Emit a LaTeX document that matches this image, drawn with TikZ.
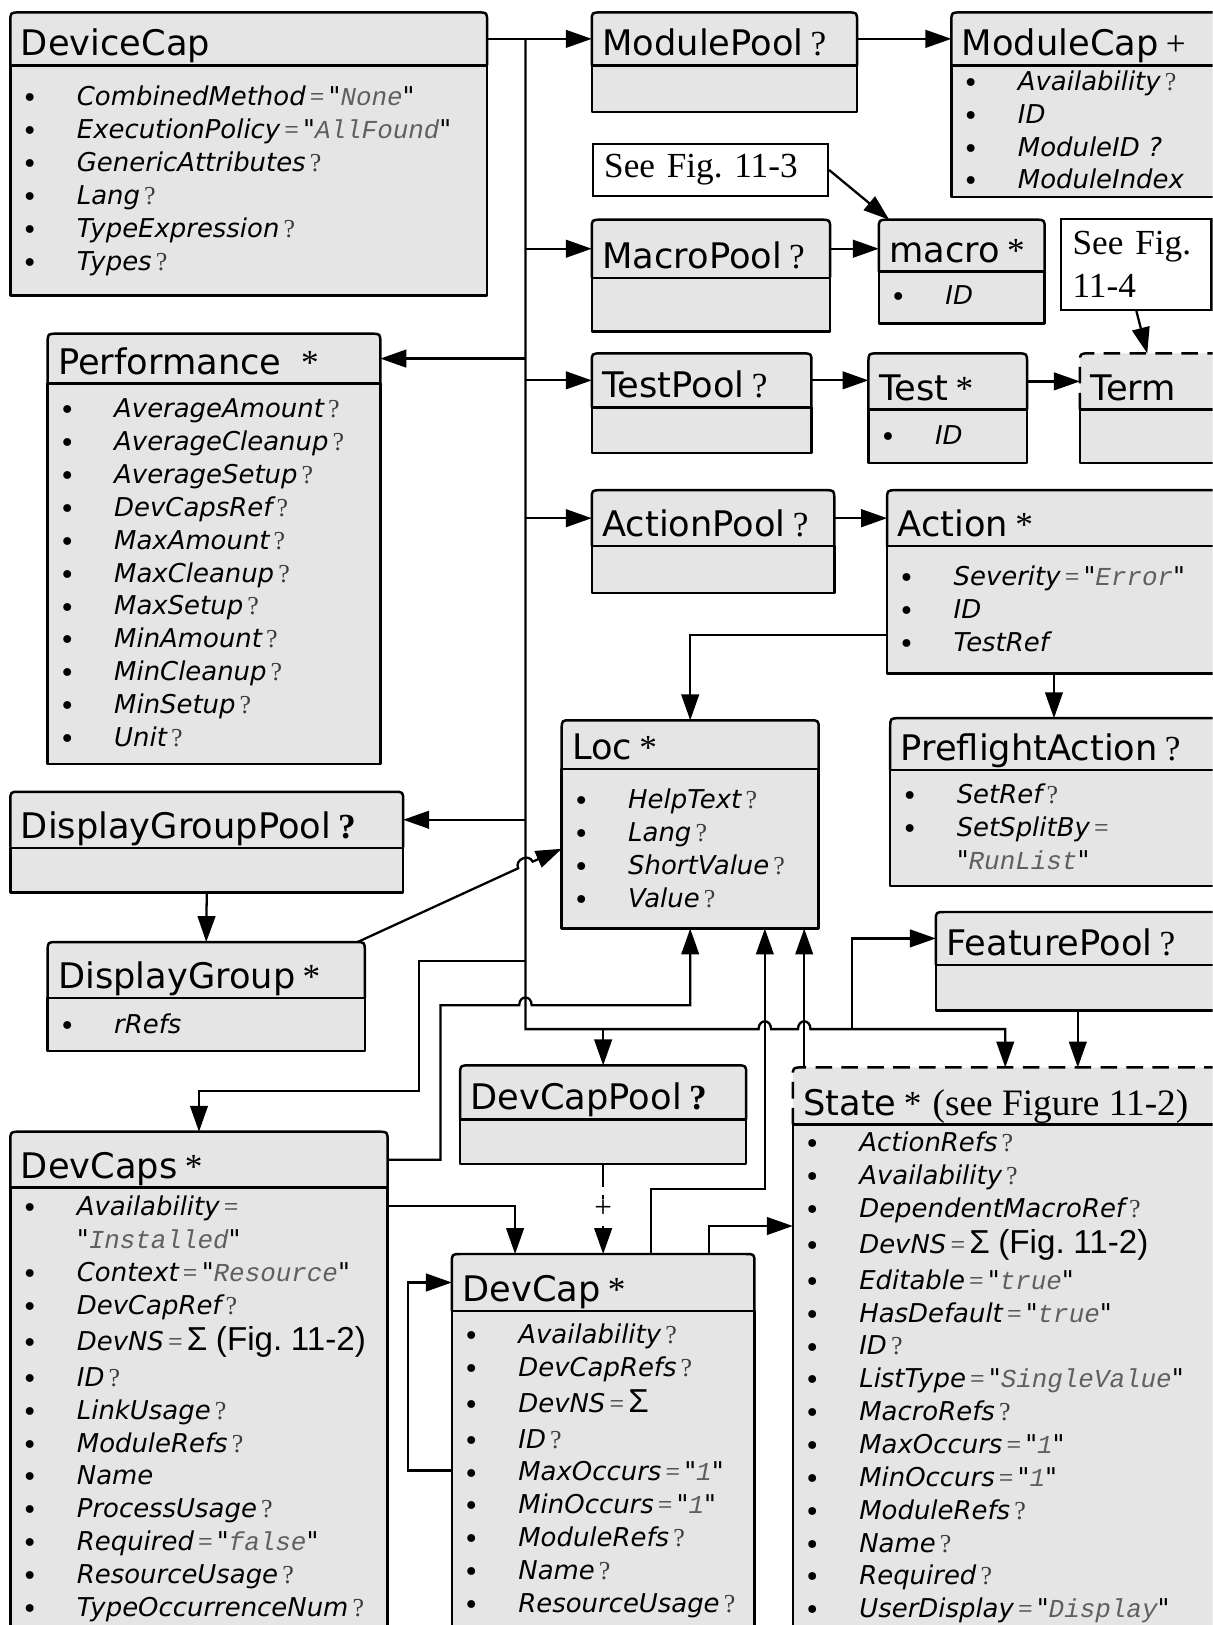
\documentclass[tikz,border=0pt]{standalone}
\usepackage{fontspec}
\setmainfont{Liberation Serif}
\newfontfamily\vfont{DejaVu Sans}
\newfontfamily\afont{Liberation Sans}
\newfontfamily\cfont{Liberation Mono}
\usetikzlibrary{arrows.meta}
\definecolor{boxgray}{RGB}{229,229,229}
\definecolor{valgray}{RGB}{95,95,95}
\definecolor{markgray}{RGB}{60,60,60}
\setlength{\parindent}{0pt}
\frenchspacing

% marks and attribute pieces
\newcommand\tmark[1]{\kern7pt{\rmfamily #1}}
\newcommand\optq{\kern4pt{\rmfamily\upshape\color{markgray}?}}
\newcommand\eqv{\kern4pt{\rmfamily\upshape\color{markgray}=}\kern4pt}
\newcommand\valq[1]{"{\cfont\color{valgray}#1}"}
\newcommand\bitem{\strut\makebox[53pt][l]{\vfont\upshape\fontsize{26}{31.7}\selectfont\raisebox{-2pt}{•}}}
\newcommand\bcont{\strut\hspace*{53pt}}
\newcommand\sigtxt[1]{{\afont\upshape\fontsize{32}{31.7}\selectfont #1}}

\tikzset{
  boxline/.style={line width=2.4pt, line join=round},
  tdash/.style={dash pattern=on 16pt off 9pt},
  hold/.style={inner sep=0pt, outer sep=0pt, anchor=north west},
  ttl/.style={anchor=base west, inner sep=0pt, font={\vfont\fontsize{34}{40}\selectfont}},
  attrlist/.style={anchor=north west, inner sep=0pt, text width=520pt, align=left,
    font={\vfont\itshape\fontsize{25}{31.7}\selectfont\lineskiplimit=-100pt}},
  wire/.style={line width=2.2pt},
  conn/.style={wire, -{Triangle[length=25pt,width=17pt]}},
  seebox/.style={draw, line width=2pt, fill=white, anchor=north west, inner xsep=11pt,
    inner ysep=0pt, align=left, font={\rmfamily\fontsize{34}{42}\selectfont}},
  plusmark/.style={fill=white, inner sep=1pt, font={\rmfamily\fontsize{30}{32}\selectfont}},
}

% box: [title frame style]{name}{x}{y}{width}{title height}{body height}{title}
\newcommand\umlbox[8][solid]{%
  \fill[boxgray] (#3,#4+#6+#7) -- (#3,#4+9) .. controls (#3,#4) .. (#3+9,#4)
    -- (#3+#5-9,#4) .. controls (#3+#5,#4) .. (#3+#5,#4+9) -- (#3+#5,#4+#6+#7) -- cycle;
  \draw[boxline] (#3,#4+#6) rectangle (#3+#5,#4+#6+#7);
  \draw[boxline,#1] (#3,#4+#6) -- (#3,#4+9) .. controls (#3,#4) .. (#3+9,#4)
    -- (#3+#5-9,#4) .. controls (#3+#5,#4) .. (#3+#5,#4+9) -- (#3+#5,#4+#6);
  \node[hold, minimum width=#5pt, minimum height=#6pt] (#2) at (#3,#4) {};
  \node[hold, minimum width=#5pt, minimum height=#7pt] (#2-b) at (#2.south west) {};
  \node[ttl] (#2-t) at ([xshift=10pt,yshift=9pt]#2.south west) {#8};
}
% attributes: {name}{first row below separator}{lines}
\newcommand\umlattrs[3]{%
  \node[attrlist] (#1-l) at ([xshift=11pt,yshift={(13.2-#2)*1pt}]#1-b.north west) {#3};}

\begin{document}
\begin{tikzpicture}[x=1pt,y=-1pt]
\useasboundingbox (0,0) rectangle (1170,1568);
\clip (0,0) rectangle (1170,1568);
\fill[white] (0,0) rectangle (1170,1568);

% boxes
\umlbox{devicecap}{10}{12}{460}{51}{222}{DeviceCap}
\umlattrs{devicecap}{30}{\bitem CombinedMethod\eqv\valq{None}\\
\bitem ExecutionPolicy\eqv\valq{AllFound}\\
\bitem GenericAttributes\optq\\
\bitem Lang\optq\\
\bitem TypeExpression\optq\\
\bitem Types\optq}

\umlbox{modpool}{571}{12}{256}{51}{45}{ModulePool\tmark{?}}
\umlbox{modcap}{918}{12}{300}{51}{127}{ModuleCap\tmark{+}}
\umlattrs{modcap}{15}{\bitem Availability\optq\\
\bitem ID\\
\bitem ModuleID ?\\
\bitem ModuleIndex}

\node[seebox, text width=205pt, minimum height=50pt] (seefig3) at (571,138) {See Fig. 11-3};

\umlbox{macpool}{571}{212}{230}{56}{52}{MacroPool\tmark{?}}
\umlbox{macro}{848}{212}{160}{50}{50}{macro\tmark{*}}
\umlattrs{macro}{23}{\bitem ID}

\node[seebox, text width=123pt, minimum height=88pt] (seefig4) at (1023,210) {See Fig.\\11-4};

\umlbox{perf}{46}{322}{321}{48}{367}{Performance\kern12pt\tmark{*}}
\umlattrs{perf}{24}{\bitem AverageAmount\optq\\
\bitem AverageCleanup\optq\\
\bitem AverageSetup\optq\\
\bitem DevCapsRef\optq\\
\bitem MaxAmount\optq\\
\bitem MaxCleanup\optq\\
\bitem MaxSetup\optq\\
\bitem MinAmount\optq\\
\bitem MinCleanup\optq\\
\bitem MinSetup\optq\\
\bitem Unit\optq}

\umlbox{testpool}{571}{341}{212}{52}{44}{TestPool\tmark{?}}
\umlbox{test}{838}{341}{153}{54}{52}{Test\tmark{*}}
\umlattrs{test}{25}{\bitem ID}
\umlbox[tdash]{term}{1042}{341}{200}{54}{52}{Term}

\umlbox{actpool}{571}{473}{234}{54}{45}{ActionPool\tmark{?}}
\umlbox{action}{856}{473}{330}{54}{123}{Action\tmark{*}}
\umlattrs{action}{29}{\bitem Severity\eqv\valq{Error}\\
\bitem ID\\
\bitem TestRef}

\umlbox{loc}{542}{695}{248}{47}{154}{Loc\tmark{*}}
\umlattrs{loc}{29}{\bitem HelpText\optq\\
\bitem Lang\optq\\
\bitem ShortValue\optq\\
\bitem Value\optq}

\umlbox{preflight}{859}{693}{330}{50}{112}{PreflightAction\tmark{?}}
\umlattrs{preflight}{23}{\bitem SetRef\optq\\
\bitem SetSplitBy\eqv\\
\bcont\valq{RunList}}

\umlbox{dgpool}{10}{764}{379}{54}{43}{DisplayGroupPool\tmark{\textbf{?}}}
\umlbox{dgroup}{46}{909}{306}{54}{51}{DisplayGroup\tmark{*}}
\umlattrs{dgroup}{25}{\bitem rRefs}

\umlbox{featpool}{903}{880}{300}{51}{44}{FeaturePool\tmark{?}}
\umlbox{dcpool}{444}{1028}{276}{52}{43}{DevCapPool\tmark{\textbf{?}}}

\umlbox[tdash]{state}{765}{1030}{420}{55}{560}{State\tmark{*} {\rmfamily\fontsize{36}{40}\selectfont(see Figure 11-2)}}
\umlattrs{state}{17}{\bitem ActionRefs\optq\\
\bitem Availability\optq\\
\bitem DependentMacroRef\optq\\[3pt]
\bitem DevNS\eqv\sigtxt{Σ (Fig. 11-2)}\\[3pt]
\bitem Editable\eqv\valq{true}\\
\bitem HasDefault\eqv\valq{true}\\
\bitem ID\optq\\
\bitem ListType\eqv\valq{SingleValue}\\
\bitem MacroRefs\optq\\
\bitem MaxOccurs\eqv\valq{1}\\
\bitem MinOccurs\eqv\valq{1}\\
\bitem ModuleRefs\optq\\
\bitem Name\optq\\
\bitem Required\optq\\
\bitem UserDisplay\eqv\valq{Display}}

\umlbox{devcaps}{10}{1092}{364}{54}{500}{DevCaps\tmark{*}}
\umlattrs{devcaps}{18}{\bitem Availability\eqv\\
\bcont\valq{Installed}\\
\bitem Context\eqv\valq{Resource}\\
\bitem DevCapRef\optq\\[3pt]
\bitem DevNS\eqv\sigtxt{Σ (Fig. 11-2)}\\[3pt]
\bitem ID\optq\\
\bitem LinkUsage\optq\\
\bitem ModuleRefs\optq\\
\bitem Name\\
\bitem ProcessUsage\optq\\
\bitem Required\eqv\valq{false}\\
\bitem ResourceUsage\optq\\
\bitem TypeOccurrenceNum\optq}

\umlbox{devcap}{436}{1210}{292}{55}{400}{DevCap\tmark{*}}
\umlattrs{devcap}{22}{\bitem Availability\optq\\
\bitem DevCapRefs\optq\\[3pt]
\bitem DevNS\eqv\sigtxt{Σ}\\[3pt]
\bitem ID\optq\\
\bitem MaxOccurs\eqv\valq{1}\\
\bitem MinOccurs\eqv\valq{1}\\
\bitem ModuleRefs\optq\\
\bitem Name\optq\\
\bitem ResourceUsage\optq}

% connectors
\coordinate (trunk) at (507,993);
\coordinate (dcsplit) at (507,927);
\coordinate (dcbend) at (404,1053);
\coordinate (fpj) at (822,993);
\coordinate (dclbend) at (425,970);
\coordinate (dvbend) at (738,1147);
\coordinate (stin) at ([xshift=205pt]state.north west);
\coordinate (stup) at ([xshift=11pt]state.north west);
\coordinate (stleft) at ([yshift=-98pt]state-b.north west);
\coordinate (fpout) at ([xshift=137pt]featpool-b.south west);
\coordinate (actleft) at ([yshift=-24pt]action-b.west);
\coordinate (actdown) at ([xshift=161pt]action-b.south west);
\coordinate (dgout) at ([xshift=-7pt]dgroup.north east);
\coordinate (dcsub) at ([yshift=-18pt]devcaps-b.north east);
\coordinate (dvin) at ([xshift=61pt]devcap.north west);
\coordinate (dvup) at ([xshift=192pt]devcap.north west);
\coordinate (dvright) at ([xshift=248pt]devcap.north west);
\coordinate (dvself) at ([yshift=-154pt]devcap-b.north west);

\draw[conn] (devicecap.east) -- (modpool.west);
\draw[conn] (modpool.east) -- (modcap.west);
\draw[conn] (trunk |- devicecap.east) -- (trunk)
  -- (732,993) .. controls (732,983) and (744,983) .. (744,993)
  -- (770,993) .. controls (770,983) and (782,983) .. (782,993) -| (stin);
\draw[conn] (trunk |- macpool.west) -- (macpool.west);
\draw[conn] (macpool.east) -- (macpool.east -| macro.west);
\draw[conn] (seefig3.east) -- ([xshift=10pt]macro.north west);
\draw[conn] (seefig4.south) -- ([xshift=65pt]term.north west);
\draw[conn] (trunk |- perf.east) -- (perf.east);
\draw[conn] (trunk |- testpool.west) -- (testpool.west);
\draw[conn] (testpool.east) -- (testpool.east -| test.west);
\draw[conn] (test.east) -- (test.east -| term.west);
\draw[conn] (trunk |- actpool.west) -- (actpool.west);
\draw[conn] (actpool.east) -- (actpool.east -| action.west);
\draw[conn] (actleft) -| (loc.north);
\draw[conn] (actdown) -- (actdown |- preflight.north);
\draw[conn] (trunk |- dgpool.east) -- (dgpool.east);
\draw[conn] (dgpool-b.south) -- (dgroup.north);
\draw[conn] (dgout) -- (500,837.8) .. controls (496.2,829.6) and (510.2,823.2) .. (514,831.4) -- (loc-b.west);
\draw[conn] (dcsplit) -| (dcbend) -| (devcaps.north);
\draw[conn] (trunk -| dcpool.north) -- (dcpool.north);
\draw[conn] (fpj) |- (featpool.west);
\draw[conn] (fpout) -- (fpout |- state.north);
\draw[conn] (devcaps.east) -| (dclbend) -- (501,970) .. controls (501,960) and (513,960) .. (513,970) -| (loc-b.south);
\draw[conn] (dcsub) -| (dvin);
\draw[conn, dash pattern=on 22pt off 8pt] (dcpool-b.south) -- node[plusmark] (plus) {+} (devcap.north);
\draw[conn] (dvup) |- (dvbend) -- (dvbend |- loc-b.south);
\draw[conn] (dvright) |- (stleft);
\draw[conn] (dvself) -- ++(-42,0) |- (devcap.west);
\draw[conn] (stup) -- (stup |- loc-b.south);
\end{tikzpicture}
\end{document}
